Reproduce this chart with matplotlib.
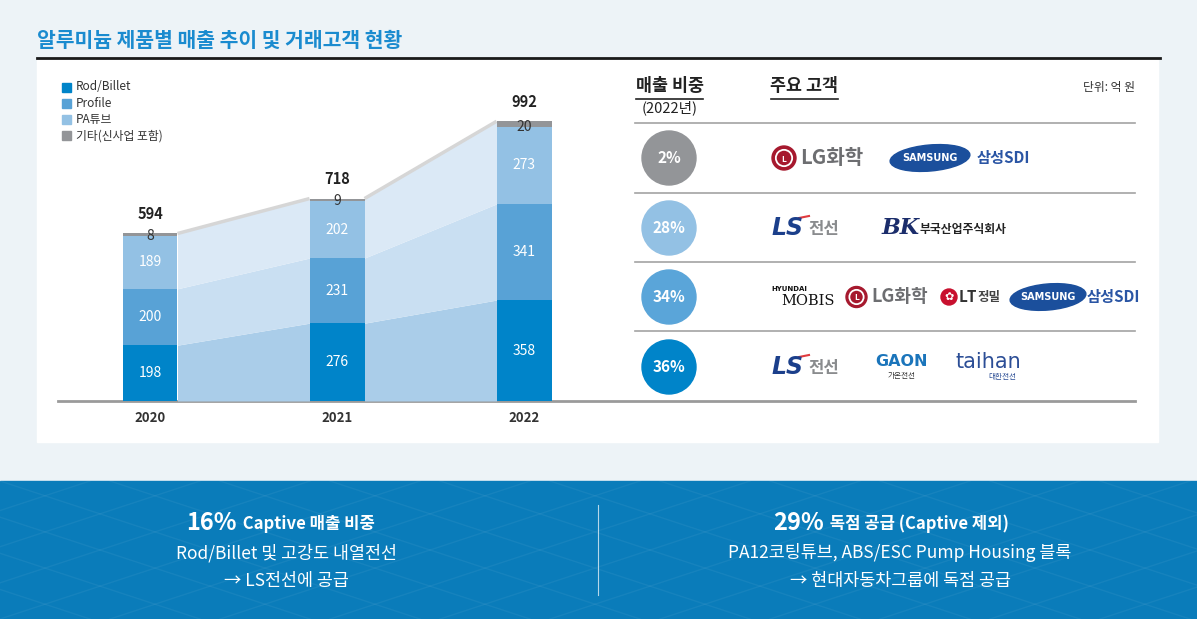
import numpy as np
import matplotlib
matplotlib.use("Agg")
import matplotlib.pyplot as plt
from matplotlib.patches import Rectangle, Circle, Ellipse

plt.rcParams['font.family'] = ['Noto Sans CJK KR', 'DejaVu Sans']

# ---- data ----
years = ["2020", "2021", "2022"]
series_names = ["Rod/Billet", "Profile", "PA튜브", "기타(신사업 포함)"]
rod_billet = [198, 276, 358]
profile = [200, 231, 341]
pa_tube = [189, 202, 273]
other = [8, 9, 20]
totals = [594, 718, 992]

share_labels = ["2%", "28%", "34%", "36%"]
customers = [
    ["LG화학", "SAMSUNG", "삼성SDI"],
    ["LS전선", "부국산업주식회사"],
    ["현대모비스", "LG화학", "LT정밀", "SAMSUNG", "삼성SDI"],
    ["LS전선", "가온전선", "대한전선"],
]

title = "알루미늄 제품별 매출 추이 및 거래고객 현황"
left_head = ("16%", " Captive 매출 비중")
left_lines = ["Rod/Billet 및 고강도 내열전선", "→ LS전선에 공급"]
right_head = ("29%", " 독점 공급 (Captive 제외)")
right_lines = ["PA12코팅튜브, ABS/ESC Pump Housing 블록", "→ 현대자동차그룹에 독점 공급"]

# ---- style ----
bar_colors = ["#0084c9", "#58a2d6", "#93c1e4", "#939598"]
area_colors = ["#aacde9", "#c9dff2", "#dbe9f6"]
share_colors = ["#939598", "#93c1e4", "#5aa5d9", "#0084c9"]
W, H = 1197, 619

fig = plt.figure(figsize=(W / 100, H / 100), dpi=100)
fig.patch.set_facecolor("#edf3f7")

# background / layout layer in pixel coordinates
bg = fig.add_axes([0, 0, 1, 1], zorder=0)
bg.set_xlim(0, W)
bg.set_ylim(H, 0)
bg.axis("off")

bg.add_patch(Rectangle((37, 60), 1121, 382, color="white", zorder=0))
bg.add_patch(Rectangle((0, 481), W, H - 481, color="#0a7cba", zorder=0))
# faint lattice on the blue band
for k in range(-8, 14):
    x0 = k * 110
    bg.plot([x0, x0 + 420], [481, 619], color="white", alpha=0.05, lw=1, zorder=0)
    bg.plot([x0 + 420, x0], [481, 619], color="white", alpha=0.05, lw=1, zorder=0)
bg.plot([37, 1160], [58, 58], color="#1a1a1a", lw=2)
bg.text(37, 40, title, fontsize=14.7, fontweight="heavy", color="#1a8bcf",
        ha="left", va="center")

# baseline across chart and table
bg.plot([58, 1135], [401, 401], color="#9a9a9a", lw=2, zorder=3)

# legend
for i, name in enumerate(series_names):
    yy = 87 + i * 16.3
    bg.add_patch(Rectangle((62, yy - 4.5), 9, 9, color=bar_colors[i]))
    bg.text(76, yy, name, fontsize=8.5, color="#333333", ha="left", va="center")

# ---- stacked bars ----
ax = fig.add_axes([58 / W, (H - 401) / H, 547 / W, (401 - 70) / H], zorder=2)
ax.set_facecolor("none")
x = np.arange(len(years))
bw = 0.294
ax.set_xlim(-0.492, 2.433)
ax.set_ylim(0, 1174)

layers = [rod_billet, profile, pa_tube, other]
cum = np.zeros(len(years))
bottoms = []
for i, vals in enumerate(layers):
    bottoms.append(cum.copy())
    ax.bar(x, vals, bw, bottom=cum, color=bar_colors[i], zorder=3)
    cum = cum + np.array(vals)

# connecting areas between bars
for j in range(len(years) - 1):
    xs = [x[j] + bw / 2, x[j + 1] - bw / 2]
    for i in range(3):
        lo = [bottoms[i][j], bottoms[i][j + 1]]
        if i < 2:
            hi = [bottoms[i + 1][j], bottoms[i + 1][j + 1]]
        else:
            hi = [totals[j], totals[j + 1]]
        ax.fill_between(xs, lo, hi, color=area_colors[i], lw=0, zorder=1)
    ax.plot(xs, [totals[j], totals[j + 1]], color="#d6d6d6", lw=2.5, zorder=2,
            solid_capstyle="butt")

for j in range(len(years)):
    for i in range(3):
        ax.text(x[j], bottoms[i][j] + layers[i][j] / 2, str(layers[i][j]),
                color="white", fontsize=10, ha="center", va="center", zorder=4)
    ax.text(x[j], bottoms[3][j], str(other[j]), color="#333333", fontsize=10,
            ha="center", va="center", zorder=4)
    ax.text(x[j], totals[j] + 68, str(totals[j]), color="#222222", fontsize=10.5,
            fontweight="bold", ha="center", va="center", zorder=4)

ax.set_xticks(x)
ax.set_xticklabels(years, fontsize=9.5, fontweight="bold", color="#333333")
ax.tick_params(axis="x", length=0, pad=7)
ax.set_yticks([])
for s in ax.spines.values():
    s.set_visible(False)

# ---- table of shares and customers ----
bg.text(670, 86, "매출 비중", fontsize=12.5, fontweight="bold", color="#222222",
        ha="center", va="center")
bg.plot([636, 703], [99, 99], color="#222222", lw=1.2)
bg.text(670, 108, "(2022년)", fontsize=10.5, color="#222222", ha="center", va="center")
bg.text(804, 86, "주요 고객", fontsize=12.5, fontweight="bold", color="#222222",
        ha="center", va="center")
bg.plot([771, 838], [99, 99], color="#222222", lw=1.2)
bg.text(1135, 87, "단위: 억 원", fontsize=8.5, color="#333333", ha="right", va="center")

for yy in [123, 193, 262, 331]:
    bg.plot([635, 1135], [yy, yy], color="#a3a3a3", lw=1.2)

row_y = [158, 228, 297, 367]
for lab, col, yy in zip(share_labels, share_colors, row_y):
    bg.add_patch(Circle((669, yy), 27, color=col, zorder=2))
    bg.text(669, yy, lab, color="white", fontsize=11, fontweight="bold",
            ha="center", va="center", zorder=3)


def draw_logo(name, x0, y, small=False):
    if name == "LG화학":
        r = 10.5 if small else 12
        bg.add_patch(Circle((x0 + r, y), r, color="#a6192e", zorder=2))
        bg.add_patch(Circle((x0 + r, y), r * 0.68, fill=False, ec="white", lw=1.3, zorder=3))
        bg.text(x0 + r, y + 1, "L", color="white", fontsize=6, fontweight="bold",
                ha="center", va="center", zorder=3)
        bg.text(x0 + 2 * r + 4, y, "LG화학", color="#6d6e71",
                fontsize=13 if small else 14.5, fontweight="bold",
                ha="left", va="center")
    elif name == "SAMSUNG":
        w = 76 if small else 80
        bg.add_patch(Ellipse((x0 + w / 2, y), w, 26, angle=-5, color="#1b4f9c", zorder=2))
        bg.text(x0 + w / 2, y, "SAMSUNG", color="white", fontsize=7, fontweight="bold",
                ha="center", va="center", zorder=3, family="DejaVu Sans")
    elif name == "삼성SDI":
        bg.text(x0, y, "삼성SDI", color="#2a55a4", fontsize=11, fontweight="bold",
                ha="left", va="center")
    elif name == "LS전선":
        bg.text(x0, y, "LS", color="#1b3f8b", fontsize=17, fontweight="bold",
                style="italic", ha="left", va="center", family="DejaVu Sans")
        bg.plot([x0 + 28, x0 + 38], [y - 10, y - 12], color="#e03a3e", lw=1.5)
        bg.text(x0 + 37, y + 1, "전선", color="#8a8c8e", fontsize=12, fontweight="bold",
                ha="left", va="center")
    elif name == "부국산업주식회사":
        bg.text(x0, y, "BK", color="#1b2d6b", fontsize=16, fontweight="bold",
                style="italic", ha="left", va="center", family="DejaVu Serif")
        bg.text(x0 + 38, y + 1, name, color="#222222", fontsize=8.5, fontweight="bold",
                ha="left", va="center")
    elif name == "현대모비스":
        bg.text(x0, y - 8, "HYUNDAI", color="#111111", fontsize=5, fontweight="bold",
                ha="left", va="center", family="DejaVu Sans")
        bg.text(x0 + 10, y + 4, "MOBIS", color="#111111", fontsize=10.5,
                ha="left", va="center", family="DejaVu Serif")
    elif name == "LT정밀":
        bg.add_patch(Circle((x0 + 8, y), 8, color="#c8102e", zorder=2))
        bg.text(x0 + 8, y, "✿", color="white", fontsize=8, ha="center", va="center",
                zorder=3, family="DejaVu Sans")
        bg.text(x0 + 18, y, "LT", color="#333333", fontsize=11, fontweight="bold",
                ha="left", va="center")
        bg.text(x0 + 37, y, "정밀", color="#444444", fontsize=9, fontweight="bold",
                ha="left", va="center")
    elif name == "가온전선":
        bg.text(x0 + 30, y - 5, "GAON", color="#1b75bb", fontsize=11.5, fontweight="bold",
                ha="center", va="center", family="DejaVu Sans")
        bg.text(x0 + 30, y + 9, name, color="#333333", fontsize=5.5,
                ha="center", va="center")
    elif name == "대한전선":
        bg.text(x0 + 30, y - 5, "taihan", color="#2c4e96", fontsize=15,
                ha="center", va="center", family="DejaVu Sans")
        bg.text(x0 + 44, y + 10, name, color="#2c4e96", fontsize=5.5,
                ha="center", va="center")


logo_x = [
    [772, 890, 977],
    [771, 882],
    [771, 846, 941, 1010, 1087],
    [771, 872, 958],
]
for r, (names, xs_, yy) in enumerate(zip(customers, logo_x, row_y)):
    for nm, xx in zip(names, xs_):
        draw_logo(nm, xx, yy, small=(r == 2))

# ---- bottom band ----
bg.plot([598, 598], [505, 595], color="white", alpha=0.7, lw=0.8)
for head, lines, cx, split in [(left_head, left_lines, 286, 237),
                               (right_head, right_lines, 900, 824)]:
    bg.text(split, 523, head[0], color="white", fontsize=17, fontweight="bold",
            ha="right", va="center")
    bg.text(split + 2, 524, head[1], color="white", fontsize=12, fontweight="bold",
            ha="left", va="center")
    bg.text(cx, 553, lines[0], color="white", fontsize=12.5, ha="center", va="center")
    bg.text(cx, 581, lines[1], color="white", fontsize=12.5, ha="center", va="center")

fig.savefig("out.png", dpi=100, facecolor=fig.get_facecolor())
